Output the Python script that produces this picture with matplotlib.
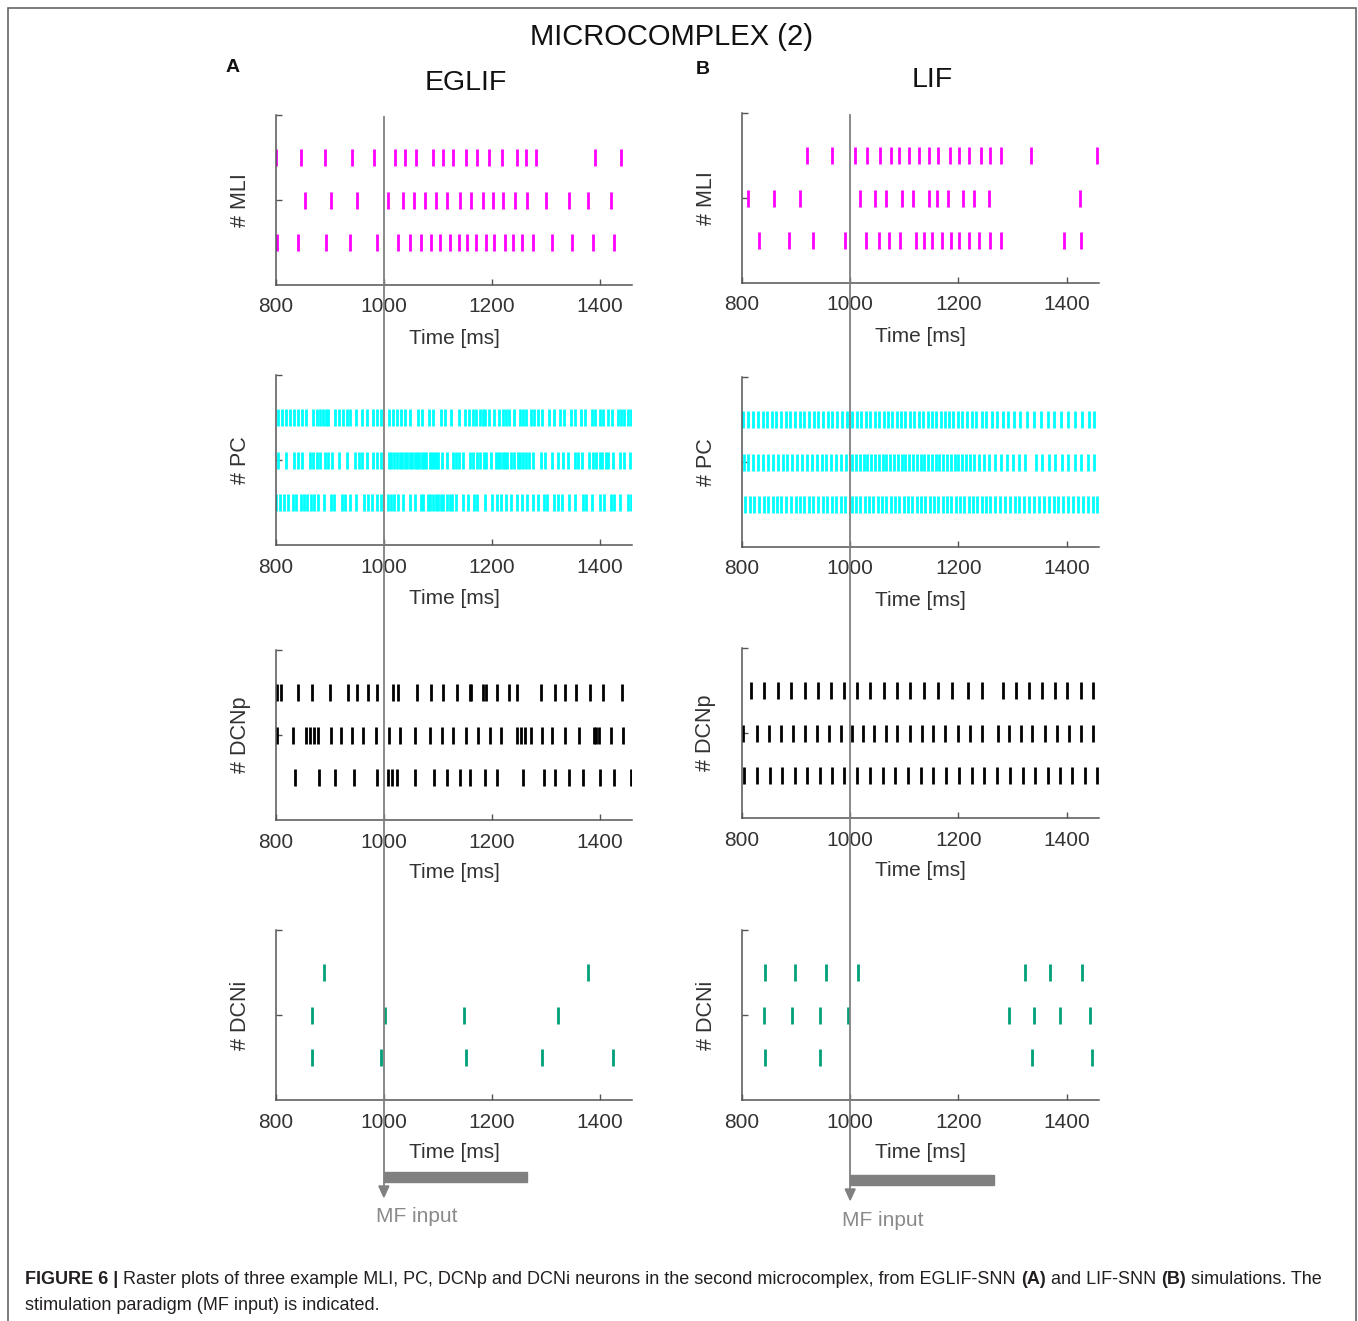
import matplotlib.pyplot as plt
from matplotlib.patches import Rectangle, Polygon
from matplotlib.lines import Line2D

plt.rcParams['font.family'] = ['Liberation Sans', 'DejaVu Sans']

W, H = 1358, 1321

# ---- data (spike times in ms, rows listed top -> bottom) ----
cells = ['MLI', 'PC', 'DCNp', 'DCNi']
cell_colors = ['#ff00ff', '#00ffff', '#000000', '#00a077']
models = ['EGLIF', 'LIF']
panel_letters = ['A', 'B']

eglif_mli = [
    [800, 846, 891, 940, 981, 1021, 1039, 1059, 1091, 1109, 1129, 1153, 1173, 1195, 1219, 1246, 1264, 1282, 1391, 1440],
    [853, 902, 951, 1008, 1035, 1056, 1077, 1096, 1117, 1142, 1161, 1183, 1202, 1220, 1243, 1266, 1300, 1344, 1378, 1421],
    [801, 841, 892, 938, 987, 1026, 1048, 1068, 1087, 1104, 1123, 1140, 1155, 1171, 1189, 1204, 1224, 1240, 1256, 1276,
     1311, 1348, 1388, 1427],
]
eglif_pc = [
    [804, 811, 819, 826, 833, 841, 849, 856, 869, 876, 882, 888, 893, 897, 910, 917, 924, 931, 938, 948, 960, 969, 979,
     987, 995, 1009, 1016, 1024, 1031, 1039, 1049, 1063, 1070, 1083, 1091, 1105, 1114, 1124, 1139, 1151, 1158, 1165,
     1171, 1179, 1183, 1187, 1195, 1205, 1214, 1221, 1227, 1232, 1241, 1252, 1258, 1263, 1272, 1279, 1286, 1293, 1307,
     1315, 1327, 1334, 1347, 1354, 1365, 1373, 1385, 1391, 1400, 1407, 1415, 1422, 1434, 1440, 1446, 1453, 1458],
    [804, 819, 833, 841, 849, 863, 869, 876, 882, 890, 897, 904, 917, 931, 946, 953, 960, 969, 979, 987, 995, 1009, 1013,
     1018, 1024, 1029, 1033, 1039, 1043, 1049, 1053, 1057, 1062, 1065, 1071, 1075, 1079, 1086, 1090, 1093, 1096, 1100,
     1108, 1117, 1128, 1133, 1139, 1146, 1159, 1165, 1172, 1178, 1186, 1189, 1198, 1207, 1212, 1215, 1221, 1224, 1228,
     1236, 1241, 1248, 1253, 1258, 1263, 1269, 1277, 1291, 1298, 1312, 1322, 1333, 1341, 1354, 1359, 1367, 1381, 1387,
     1393, 1400, 1405, 1411, 1415, 1424, 1437, 1445, 1456],
    [800, 807, 815, 823, 831, 838, 846, 851, 858, 864, 871, 878, 889, 902, 907, 922, 928, 938, 949, 964, 970, 978, 987,
     995, 1008, 1013, 1019, 1027, 1035, 1048, 1057, 1068, 1073, 1081, 1086, 1091, 1096, 1101, 1105, 1109, 1117, 1122,
     1127, 1134, 1147, 1156, 1167, 1173, 1188, 1201, 1209, 1218, 1226, 1235, 1246, 1256, 1266, 1276, 1285, 1296, 1302,
     1315, 1322, 1331, 1344, 1354, 1369, 1375, 1385, 1400, 1409, 1421, 1427, 1437, 1452, 1458],
]
eglif_dcnp = [
    [801, 809, 841, 866, 901, 934, 951, 971, 988, 1017, 1027, 1062, 1087, 1109, 1135, 1160, 1162, 1184, 1189, 1210,
     1232, 1247, 1291, 1318, 1336, 1357, 1382, 1406, 1441],
    [802, 831, 856, 863, 870, 878, 902, 921, 941, 962, 985, 1009, 1029, 1057, 1086, 1108, 1129, 1152, 1175, 1197, 1218,
     1246, 1254, 1261, 1273, 1293, 1312, 1336, 1362, 1390, 1394, 1398, 1421, 1444],
    [835, 879, 909, 944, 987, 1007, 1015, 1025, 1057, 1093, 1117, 1141, 1159, 1188, 1210, 1258, 1296, 1318, 1344, 1369,
     1400, 1426, 1458],
]
eglif_dcni = [
    [889, 1379],
    [867, 1002, 1148, 1322],
    [867, 994, 1152, 1294, 1424],
]

lif_mli = [
    [920, 967, 1009, 1032, 1056, 1075, 1091, 1108, 1127, 1145, 1163, 1184, 1202, 1219, 1241, 1259, 1279, 1335, 1456],
    [811, 860, 908, 1018, 1046, 1067, 1095, 1117, 1145, 1161, 1181, 1208, 1228, 1256, 1425],
    [832, 887, 932, 991, 1029, 1053, 1072, 1092, 1121, 1136, 1152, 1170, 1186, 1202, 1219, 1239, 1259, 1279, 1395, 1427],
]
lif_pc = [
    [802, 811, 820, 829, 838, 846, 855, 863, 872, 881, 889, 898, 907, 915, 924, 933, 941, 950, 959, 967, 976, 985, 994,
     1004, 1012, 1020, 1029, 1037, 1046, 1054, 1062, 1070, 1078, 1086, 1094, 1102, 1110, 1118, 1127, 1135, 1143, 1151,
     1159, 1167, 1175, 1183, 1191, 1199, 1207, 1216, 1225, 1233, 1243, 1252, 1262, 1272, 1282, 1292, 1303, 1314, 1326,
     1340, 1352, 1365, 1377, 1389, 1402, 1415, 1428, 1441, 1451],
    [804, 812, 821, 830, 839, 848, 857, 866, 875, 884, 893, 902, 911, 920, 929, 938, 947, 956, 965, 974, 983, 993, 1004,
     1011, 1018, 1025, 1032, 1039, 1046, 1053, 1060, 1067, 1074, 1081, 1088, 1095, 1102, 1109, 1116, 1123, 1130, 1137,
     1144, 1151, 1158, 1165, 1172, 1179, 1186, 1193, 1200, 1207, 1214, 1221, 1229, 1238, 1247, 1257, 1268, 1279, 1290,
     1301, 1312, 1324, 1343, 1355, 1367, 1379, 1391, 1403, 1415, 1427, 1439, 1451],
    [806, 814, 823, 831, 840, 848, 857, 865, 873, 882, 890, 899, 907, 915, 924, 932, 941, 949, 957, 966, 974, 983, 991,
     1003, 1011, 1019, 1027, 1035, 1043, 1051, 1059, 1067, 1075, 1083, 1091, 1099, 1107, 1115, 1123, 1131, 1139, 1147,
     1155, 1163, 1171, 1179, 1187, 1195, 1203, 1211, 1219, 1227, 1235, 1243, 1251, 1259, 1268, 1277, 1286, 1295, 1304,
     1313, 1322, 1331, 1340, 1349, 1358, 1367, 1376, 1385, 1394, 1403, 1412, 1421, 1430, 1439, 1448, 1457],
]
lif_dcnp = [
    [816, 841, 866, 891, 916, 941, 965, 989, 1012, 1037, 1062, 1087, 1111, 1137, 1163, 1189, 1217, 1244, 1282, 1307,
     1330, 1354, 1378, 1401, 1426, 1448],
    [802, 828, 850, 872, 894, 916, 939, 961, 983, 1004, 1023, 1044, 1066, 1087, 1110, 1132, 1154, 1176, 1199, 1221, 1243,
     1273, 1294, 1315, 1337, 1360, 1382, 1404, 1426, 1449],
    [804, 827, 851, 874, 898, 921, 945, 967, 989, 1013, 1036, 1060, 1083, 1107, 1131, 1154, 1178, 1201, 1225, 1248, 1272,
     1295, 1319, 1342, 1366, 1388, 1410, 1434, 1457],
]
lif_dcni = [
    [843, 898, 956, 1015, 1323, 1369, 1428],
    [841, 892, 945, 996, 1293, 1339, 1387, 1444],
    [843, 945, 1337, 1447],
]

spikes = [[eglif_mli, eglif_pc, eglif_dcnp, eglif_dcni],
          [lif_mli, lif_pc, lif_dcnp, lif_dcni]]

xlim = (800, 1460)
xticks = [800, 1000, 1200, 1400]
mf_start, mf_end = 1000, 1265

# ---- layout (pixels) ----
col_left = [276, 742]
col_width = [356, 357]
row_bottom = [[285, 545, 820, 1100], [283, 547, 818, 1100]]
ax_h = 170

fig = plt.figure(figsize=(W / 100, H / 100), dpi=100)


def fx(px):
    return px / W


def fy(py):
    return 1 - py / H


axis_gray = '#555555'
txt = '#333333'

for c in range(2):
    for r in range(4):
        ax = fig.add_axes([fx(col_left[c]), fy(row_bottom[c][r]), col_width[c] / W, ax_h / H])
        ax.eventplot(spikes[c][r], lineoffsets=[3, 2, 1], linelengths=0.4,
                     colors=cell_colors[r], linewidths=2.0)
        ax.set_xlim(*xlim)
        ax.set_ylim(0, 4)
        ax.set_xticks(xticks)
        ax.set_yticks([2, 4])
        ax.set_yticklabels([])
        for s in ['top', 'right']:
            ax.spines[s].set_visible(False)
        for s in ['left', 'bottom']:
            ax.spines[s].set_color(axis_gray)
            ax.spines[s].set_linewidth(1.1)
        ax.tick_params(direction='in', length=4, width=1, color=axis_gray,
                       labelsize=15, labelcolor=txt, pad=9)
        # axis labels
        xc = col_left[c] + col_width[c] / 2
        fig.text(fx(xc), fy(row_bottom[c][r] + 53), 'Time [ms]', fontsize=15,
                 color=txt, ha='center', va='center')
        fig.text(fx(col_left[c] - 36), fy(row_bottom[c][r] - ax_h / 2), '# ' + cells[r],
                 fontsize=15.5, color=txt, rotation=90, ha='center', va='center')

    # stimulation marker
    scale = col_width[c] / (xlim[1] - xlim[0])
    x0 = col_left[c] + (mf_start - xlim[0]) * scale
    x1 = col_left[c] + (mf_end - xlim[0]) * scale
    top = row_bottom[c][0] - ax_h
    bar_y = [1172, 1175][c]
    end_y = bar_y + 14
    fig.add_artist(Line2D([fx(x0), fx(x0)], [fy(top + 2), fy(end_y)], color='#808080',
                          lw=1.3, zorder=10))
    fig.add_artist(Polygon([[fx(x0 - 5), fy(end_y)], [fx(x0 + 5), fy(end_y)], [fx(x0), fy(end_y + 11)]],
                           closed=True, color='#808080', zorder=10))
    fig.add_artist(Rectangle((fx(x0), fy(bar_y + 10)), fx(x1) - fx(x0), 10 / H,
                             color='#808080', zorder=10))
    fig.text(fx(x0 + 33), fy(end_y + 31), 'MF input', fontsize=15, color='#8a8a8a',
             ha='center', va='center')

    # column titles
    fig.text(fx([466, 932][c]), fy([83, 80][c]), models[c], fontsize=20.5, color='#111111',
             ha='center', va='center')
    fig.text(fx([233, 703][c]), fy([67, 70][c]), panel_letters[c], fontsize=14,
             fontweight='bold', color='#111111', ha='center', va='center')

fig.text(fx(672), fy(37), 'MICROCOMPLEX (2)', fontsize=21, color='#111111',
         ha='center', va='center')

# frame
fig.add_artist(Rectangle((fx(8), fy(1340)), fx(1356) - fx(8), fy(8) - fy(1340),
                         fill=False, edgecolor='#666666', lw=1.2))

# caption with bold parts
renderer = fig.canvas.get_renderer()
line1 = [('FIGURE 6 |', 'bold'),
         (' Raster plots of three example MLI, PC, DCNp and DCNi neurons in the second microcomplex, '
          'from EGLIF-SNN ', 'normal'),
         ('(A)', 'bold'), (' and LIF-SNN ', 'normal'), ('(B)', 'bold'),
         (' simulations. The', 'normal')]
x = fx(25)
for s, wgt in line1:
    t = fig.text(x, fy(1280), s, fontsize=13, fontweight=wgt, color='#231f20',
                 ha='left', va='center')
    x += t.get_window_extent(renderer).width / W
fig.text(fx(25), fy(1305), 'stimulation paradigm (MF input) is indicated.', fontsize=13,
         color='#231f20', ha='left', va='center')

fig.savefig('out.png', dpi=100)
